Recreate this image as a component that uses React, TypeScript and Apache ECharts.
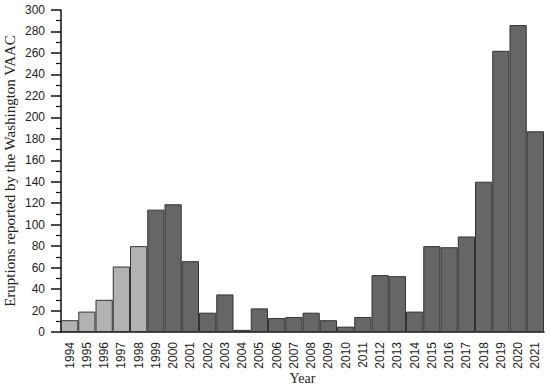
import React, { useEffect, useRef } from "react";
import * as echarts from "echarts";

const years = ["1994","1995","1996","1997","1998","1999","2000","2001","2002","2003","2004","2005","2006","2007","2008","2009","2010","2011","2012","2013","2014","2015","2016","2017","2018","2019","2020","2021"];
const eruptions = [11,19,30,61,80,114,119,66,18,35,2,22,13,14,18,11,5,14,53,52,19,80,79,89,140,262,286,187];
const lightYears = ["1994","1995","1996","1997","1998"];

export default function App() {
  const ref = useRef<HTMLDivElement>(null);
  useEffect(() => {
    if (!ref.current) return;
    const chart = echarts.init(ref.current, null, { renderer: "svg" });
    chart.setOption({
      animation: false,
      grid: { left: 61, right: 6, top: 10, bottom: 56, outerBoundsMode: "none", containLabel: false },
      xAxis: {
        type: "category",
        data: years,
        name: "Year",
        nameLocation: "middle",
        nameGap: 39,
        nameMoveOverlap: false,
        nameTextStyle: { fontFamily: "Liberation Serif", fontSize: 14, lineHeight: 14, color: "#222" },
        axisLine: { lineStyle: { color: "#111", width: 1.5 } },
        axisTick: { alignWithLabel: true, length: 5, lineStyle: { color: "#111", width: 1.5 } },
        axisLabel: { rotate: 90, margin: 10, fontFamily: "Liberation Sans", fontSize: 12, color: "#222", interval: 0 },
      },
      yAxis: {
        type: "value",
        min: 0,
        max: 300,
        interval: 20,
        name: "Eruptions reported by the Washington VAAC",
        nameLocation: "middle",
        nameGap: 44,
        nameMoveOverlap: false,
        nameTextStyle: { fontFamily: "Liberation Serif", fontSize: 15, color: "#222" },
        axisLine: { show: true, lineStyle: { color: "#111", width: 1.5 } },
        axisTick: { show: true, length: 10, lineStyle: { color: "#111", width: 1.5 } },
        minorTick: { show: true, splitNumber: 2, length: 5, lineStyle: { color: "#111", width: 1.2 } },
        splitLine: { show: false },
        axisLabel: { margin: 16, fontFamily: "Liberation Sans", fontSize: 12, color: "#222" },
      },
      series: [
        {
          type: "bar",
          barCategoryGap: "0%",
          data: eruptions.map((v, i) => ({
            value: v,
            itemStyle: {
              color: lightYears.includes(years[i]) ? "#b2b2b2" : "#666666",
              borderColor: "#333",
              borderWidth: 1,
            },
          })),
        },
      ],
    });
    return () => chart.dispose();
  }, []);
  return <div ref={ref} style={{ width: 550, height: 388, position: "absolute", left: 0, top: 0, background: "#fff" }} />;
}
